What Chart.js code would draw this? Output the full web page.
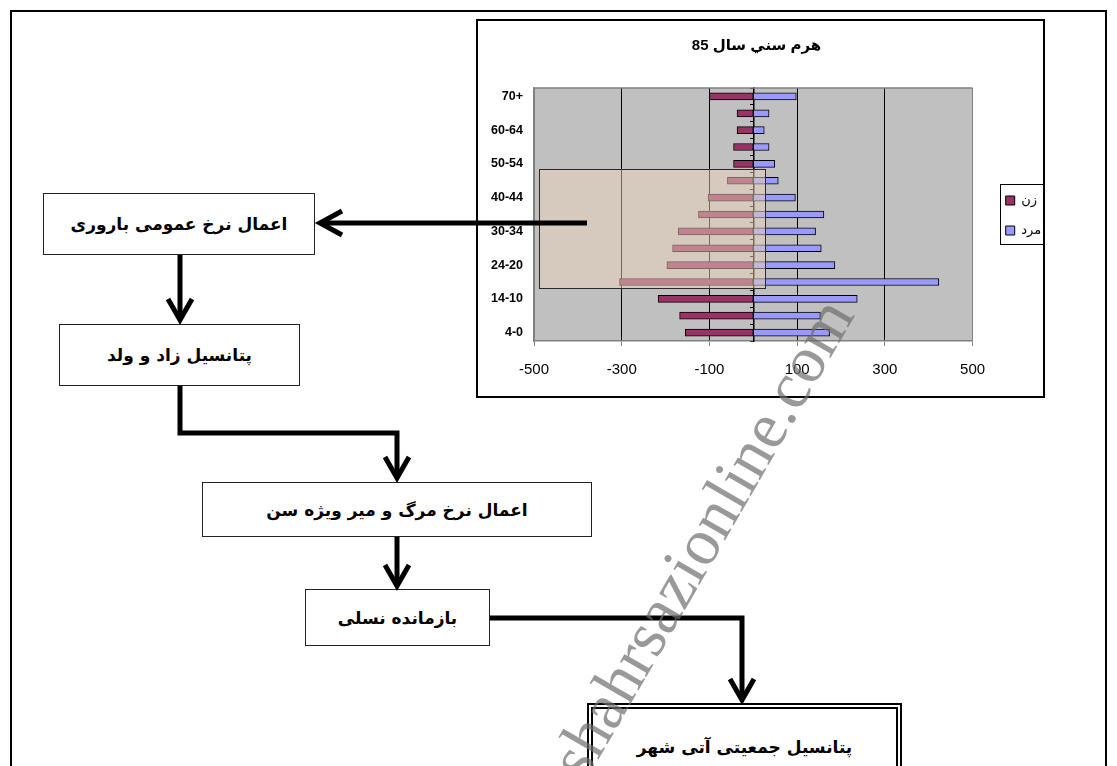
<!DOCTYPE html>
<html lang="fa">
<head>
<meta charset="UTF-8">
<title>هرم سني سال 85</title>
<script src="https://cdn.jsdelivr.net/npm/chart.js"></script>
<style>
  body { margin: 0; width: 1117px; height: 766px; overflow: hidden; background: #fff; position: relative; font-family: "DejaVu Sans", sans-serif; }
  .frame { position: absolute; left: 10px; top: 10px; width: 1097px; height: 820px; border: 2px solid #000; box-sizing: border-box; }
  .box { position: absolute; box-sizing: border-box; border: 1px solid #222; background: #fff; display: flex; align-items: center; justify-content: center; direction: rtl; font-weight: bold; font-size: 17px; color: #000; }
  .double { border: 6px double #000; }
  .chart-box { position: absolute; left: 476px; top: 19px; width: 569px; height: 379px; border: 2px solid #000; box-sizing: border-box; background: #fff; }
  .shade { position: absolute; left: 539px; top: 169px; width: 227px; height: 120px; box-sizing: border-box; border: 1px solid #2a2a2a; background: rgba(234, 212, 186, 0.5); }
  svg { position: absolute; left: 0; top: 0; }
</style>
</head>
<body>
<div class="frame"></div>

<div class="box" style="left:43px; top:193px; width:272px; height:62px;">اعمال نرخ عمومی باروری</div>
<div class="box" style="left:59px; top:324px; width:241px; height:62px;">پتانسیل زاد و ولد</div>
<div class="box" style="left:202px; top:482px; width:390px; height:55px;">اعمال نرخ مرگ و میر ویژه سن</div>
<div class="box" style="left:305px; top:589px; width:185px; height:57px;">بازمانده نسلی</div>
<div class="box double" style="left:587px; top:703px; width:315px; height:88px;">پتانسیل جمعیتی آتی شهر</div>

<div class="chart-box">
    <canvas id="piramide" width="565" height="375"></canvas>
</div>
<div class="shade"></div>

<svg width="1117" height="766">
    <g fill="none" stroke="#000" stroke-width="5" stroke-linejoin="miter">
        <!-- از نمودار به باروری -->
        <line x1="587" y1="223" x2="321" y2="223"/>
        <polyline points="342,211 320,223 342,235"/>
        <!-- باروری به زاد و ولد -->
        <line x1="180" y1="255" x2="180" y2="318"/>
        <polyline points="168,299 180,320 192,299"/>
        <!-- زاد و ولد به مرگ و میر -->
        <polyline points="180,386 180,433 397,433 397,476"/>
        <polyline points="385,457 397,478 409,457"/>
        <!-- مرگ و میر به بازمانده -->
        <line x1="397" y1="537" x2="397" y2="583"/>
        <polyline points="385,565 397,586 409,565"/>
        <!-- بازمانده به پتانسیل جمعیتی -->
        <polyline points="490,618 742,618 742,697"/>
        <polyline points="730,679 742,700 754,679"/>
    </g>
    <text x="585" y="783" transform="rotate(-60 585 783)" font-family="Liberation Serif, serif" font-size="66" fill="rgba(110,110,110,0.7)">shahrsazionline.com</text>
</svg>

<script>
    // داده ها
    const gruposIdade = ['70+', '69-65', '60-64', '59-55', '50-54', '49-45', '40-44', '39-35', '30-34', '29-25', '24-20', '19-15', '14-10', '9-5', '4-0'];
    const mulheres = [-100, -37, -37, -45, -45, -59, -103, -125, -171, -184, -197, -305, -217, -168, -155];
    const homens = [98, 36, 25, 36, 49, 57, 96, 161, 142, 155, 186, 423, 237, 153, 174];
    const ticksX = [-500, -300, -100, 100, 300, 500];
    const nomesSeries = ['زن', 'مرد'];
    const tituloGrafico = 'هرم سني سال 85';

    Chart.defaults.font.family = "'Liberation Sans', Arial, 'DejaVu Sans', sans-serif";
    Chart.defaults.color = '#000';

    const fundo = {
        id: 'fundo',
        beforeDraw(chart) {
            const { ctx, chartArea: a } = chart;
            ctx.save();
            ctx.fillStyle = '#C0C0C0';
            ctx.fillRect(a.left, a.top, a.width, a.height);
            ctx.restore();
        },
        beforeDatasetsDraw(chart) {
            const { ctx, chartArea: a } = chart;
            ctx.save();
            ctx.strokeStyle = '#808080';
            ctx.lineWidth = 1.5;
            ctx.beginPath();
            ctx.moveTo(a.left, a.top);
            ctx.lineTo(a.right, a.top);
            ctx.stroke();
            ctx.restore();
        },
        afterLayout(chart) {
            // legenda um pouco afastada do grafico
            const lg = chart.legend;
            const pad = lg.options.labels.padding;
            const dx = 527.7 - (lg.left + pad);
            lg.left += dx;
            lg.right += dx;
            lg.top += 7;
            lg.bottom += 7;
        },
        afterDraw(chart) {
            const hb = chart.legend.legendHitBoxes;
            if (!hb || !hb.length) return;
            const l = Math.min(...hb.map(h => h.left)) - 6;
            const r = Math.max(...hb.map(h => h.left + h.width)) + 5;
            const t = Math.min(...hb.map(h => h.top)) - 10;
            const b = Math.max(...hb.map(h => h.top + h.height)) + 7;
            const ctx = chart.ctx;
            ctx.save();
            ctx.strokeStyle = '#000';
            ctx.lineWidth = 1;
            ctx.strokeRect(Math.round(l) + 0.5, Math.round(t) + 0.5, Math.round(r - l), Math.round(b - t));
            ctx.restore();
        }
    };

    const ctxPiramide = document.getElementById('piramide').getContext('2d');

    let piramide = new Chart(ctxPiramide, {
        type: 'bar',
        data: {
            labels: gruposIdade,
            datasets: [{
                label: nomesSeries[0],
                data: mulheres,
                backgroundColor: '#993366',
                borderColor: '#000',
                borderWidth: 1,
                borderSkipped: false,
                barThickness: 7
            }, {
                label: nomesSeries[1],
                data: homens,
                backgroundColor: '#9999FF',
                borderColor: '#000',
                borderWidth: 1,
                borderSkipped: false,
                barThickness: 7
            }]
        },
        options: {
            indexAxis: 'y',
            responsive: false,
            animation: false,
            layout: { padding: { left: 0, right: 8, top: 0, bottom: 0 } },
            plugins: {
                title: {
                    display: true,
                    text: '\u202B' + tituloGrafico + '\u202C',
                    font: { size: 15, weight: 'bold' },
                    color: '#000',
                    padding: { top: 16, bottom: 33 }
                },
                legend: {
                    position: 'right',
                    align: 'center',
                    labels: {
                        boxWidth: 9,
                        boxHeight: 9,
                        padding: 17,
                        color: '#000',
                        font: { size: 13, family: "'DejaVu Sans', sans-serif" }
                    }
                },
                tooltip: { enabled: false }
            },
            scales: {
                x: {
                    type: 'linear',
                    min: -500,
                    max: 500,
                    stacked: true,
                    afterBuildTicks: s => { s.ticks = ticksX.map(v => ({ value: v })); },
                    afterFit: s => { s.height = 55; },
                    grid: {
                        color: c => (c.tick && Math.abs(c.tick.value) === 500) ? '#808080' : '#000',
                        lineWidth: 1,
                        tickColor: '#808080',
                        tickLength: 5
                    },
                    border: { color: '#808080', width: 1.5 },
                    ticks: { font: { size: 15 }, padding: 15, color: '#000' }
                },
                y: {
                    stacked: true,
                    afterFit: s => { s.width = 56; },
                    grid: { display: false, drawTicks: false },
                    border: { color: '#808080', width: 1.5 },
                    ticks: {
                        autoSkip: false,
                        padding: 11,
                        font: { size: 12.5, weight: 'bold' },
                        color: '#000',
                        callback: (v, i) => i % 2 === 0 ? gruposIdade[i] : ''
                    }
                },
                y2: {
                    type: 'category',
                    labels: gruposIdade,
                    position: { x: 0 },
                    offset: true,
                    z: 1,
                    grid: { display: true, drawOnChartArea: false, drawTicks: true, tickLength: 3, offset: true, color: '#000' },
                    border: { color: '#000', width: 1.5 },
                    ticks: { display: false }
                }
            }
        },
        plugins: [fundo]
    });
</script>
</body>
</html>
